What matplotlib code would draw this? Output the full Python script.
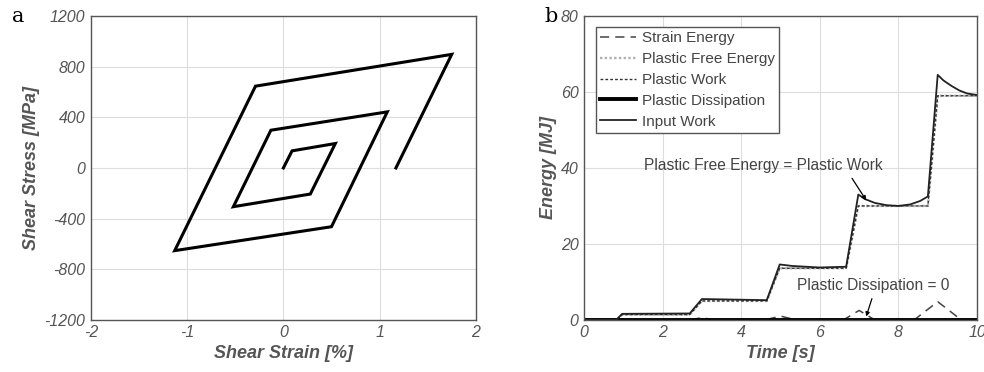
import numpy as np
import matplotlib
matplotlib.use('Agg')
import matplotlib.pyplot as plt

plt.rcParams['font.family'] = ['Liberation Sans', 'DejaVu Sans']
plt.rcParams['axes.unicode_minus'] = False

# (a) shear stress-strain loop, corner points in order of loading
strain = [0.0, 0.09, 0.54, 0.28, -0.52, -0.13, 1.08, 0.50, -1.13, -0.29, 1.75, 1.17]
stress = [0, 135, 193, -206, -306, 298, 443, -464, -653, 646, 897, 0]

# (b) energy histories
t_input = [0, 0.82, 0.97, 2.69, 3.0, 4.65, 4.98, 5.3, 6.0, 6.67, 6.98, 7.15,
           7.4, 7.7, 8.0, 8.3, 8.55, 8.75, 9.0, 9.15, 9.35, 9.55, 9.75, 10]
input_work = [0, 0, 1.6, 1.7, 5.5, 5.2, 14.6, 14.2, 13.8, 14.0, 33.0, 31.8,
              30.8, 30.2, 30.0, 30.4, 31.3, 32.5, 64.5, 63.0, 61.6, 60.4, 59.6, 59.2]

t_plastic = [0, 0.82, 0.97, 2.69, 3.0, 4.65, 4.98, 6.67, 6.98, 8.75, 9.0, 10]
plastic_work = [0, 0, 1.4, 1.4, 5.0, 5.0, 13.6, 13.6, 30.0, 30.0, 59.0, 59.0]
plastic_free_energy = [0, 0, 1.4, 1.4, 5.0, 5.0, 13.6, 13.6, 30.0, 30.0, 59.0, 59.0]

t_strain = [0, 0.8, 1.0, 1.3, 2.7, 3.0, 3.3, 4.6, 5.0, 5.4, 6.6, 7.0, 7.4,
            8.4, 9.0, 9.6, 10]
strain_energy = [0, 0, 0.3, 0, 0, 0.6, 0, 0, 1.0, 0, 0, 2.5, 0, 0, 4.8, 0, 0]

t_diss = [0, 10]
plastic_dissipation = [0, 0]

x_ticks_a = [-2, -1, 0, 1, 2]
y_ticks_a = [-1200, -800, -400, 0, 400, 800, 1200]
x_ticks_b = [0, 2, 4, 6, 8, 10]
y_ticks_b = [0, 20, 40, 60, 80]

text_col = '#555555'
fontsize = 11.5

fig = plt.figure(figsize=(9.84, 3.72), dpi=100)
ax1 = fig.add_axes([0.0925, 0.140, 0.391, 0.817])
ax2 = fig.add_axes([0.5935, 0.140, 0.3994, 0.817])


def style_axes(ax, xticks, yticks):
    ax.set_xticks(xticks)
    ax.set_yticks(yticks)
    ax.set_xlim(xticks[0], xticks[-1])
    ax.set_ylim(yticks[0], yticks[-1])
    ax.grid(True, color='#dddddd', lw=0.8)
    ax.set_axisbelow(True)
    ax.tick_params(length=0, labelsize=fontsize, labelcolor=text_col, pad=4)
    for lab in ax.get_xticklabels() + ax.get_yticklabels():
        lab.set_fontstyle('italic')
    for sp in ax.spines.values():
        sp.set_color('#555555')
        sp.set_linewidth(1.0)


# Panel a
ax1.plot(strain, stress, color='black', lw=2.2, solid_joinstyle='miter')
style_axes(ax1, x_ticks_a, y_ticks_a)
ax1.set_xlabel('Shear Strain [%]', fontsize=13, fontweight='bold',
               fontstyle='italic', color=text_col, labelpad=3)
ax1.set_ylabel('Shear Stress [MPa]', fontsize=13, fontweight='bold',
               fontstyle='italic', color=text_col, labelpad=3)
fig.text(0.012, 0.955, 'a', family='DejaVu Serif', fontsize=15, va='center')

# Panel b
ax2.plot(t_strain, strain_energy, color='#444444', lw=1.1, ls=(0, (6, 4)),
         label='Strain Energy')
ax2.plot(t_plastic, plastic_free_energy, color='#b0b0b0', lw=1.7, ls=(0, (1, 1)),
         label='Plastic Free Energy')
ax2.plot(t_plastic, plastic_work, color='#333333', lw=1.0, ls=(0, (2, 1.5)),
         label='Plastic Work')
ax2.plot(t_diss, plastic_dissipation, color='black', lw=2.8,
         label='Plastic Dissipation')
ax2.plot(t_input, input_work, color='#222222', lw=1.3, label='Input Work')
style_axes(ax2, x_ticks_b, y_ticks_b)
ax2.set_xlabel('Time [s]', fontsize=13, fontweight='bold',
               fontstyle='italic', color=text_col, labelpad=3)
ax2.set_ylabel('Energy [MJ]', fontsize=13, fontweight='bold',
               fontstyle='italic', color=text_col, labelpad=3)

leg = ax2.legend(loc='upper left', bbox_to_anchor=(0.03, 0.965), fontsize=11,
                 fancybox=False, framealpha=1, edgecolor='#555555',
                 borderpad=0.3, labelspacing=0.45, handlelength=2.3,
                 handletextpad=0.4, borderaxespad=0)
for txt in leg.get_texts():
    txt.set_color('#444444')
leg.get_frame().set_linewidth(1.0)

ax2.annotate('Plastic Free Energy = Plastic Work', xy=(7.18, 31.5),
             xytext=(4.55, 40.6), ha='center', va='center', fontsize=11.2,
             color='#444444',
             arrowprops=dict(arrowstyle='-|>', color='black', lw=0.9,
                             shrinkA=2, shrinkB=0, mutation_scale=6,
                             relpos=(0.86, 0.0)))
ax2.annotate('Plastic Dissipation = 0', xy=(7.18, 0.9),
             xytext=(7.37, 9.0), ha='center', va='center', fontsize=11.2,
             color='#444444',
             arrowprops=dict(arrowstyle='-|>', color='black', lw=0.9,
                             shrinkA=2, shrinkB=0, mutation_scale=6,
                             relpos=(0.5, 0.0)))
fig.text(0.553, 0.955, 'b', family='DejaVu Serif', fontsize=15, va='center')

plt.savefig('out.png', dpi=100)
